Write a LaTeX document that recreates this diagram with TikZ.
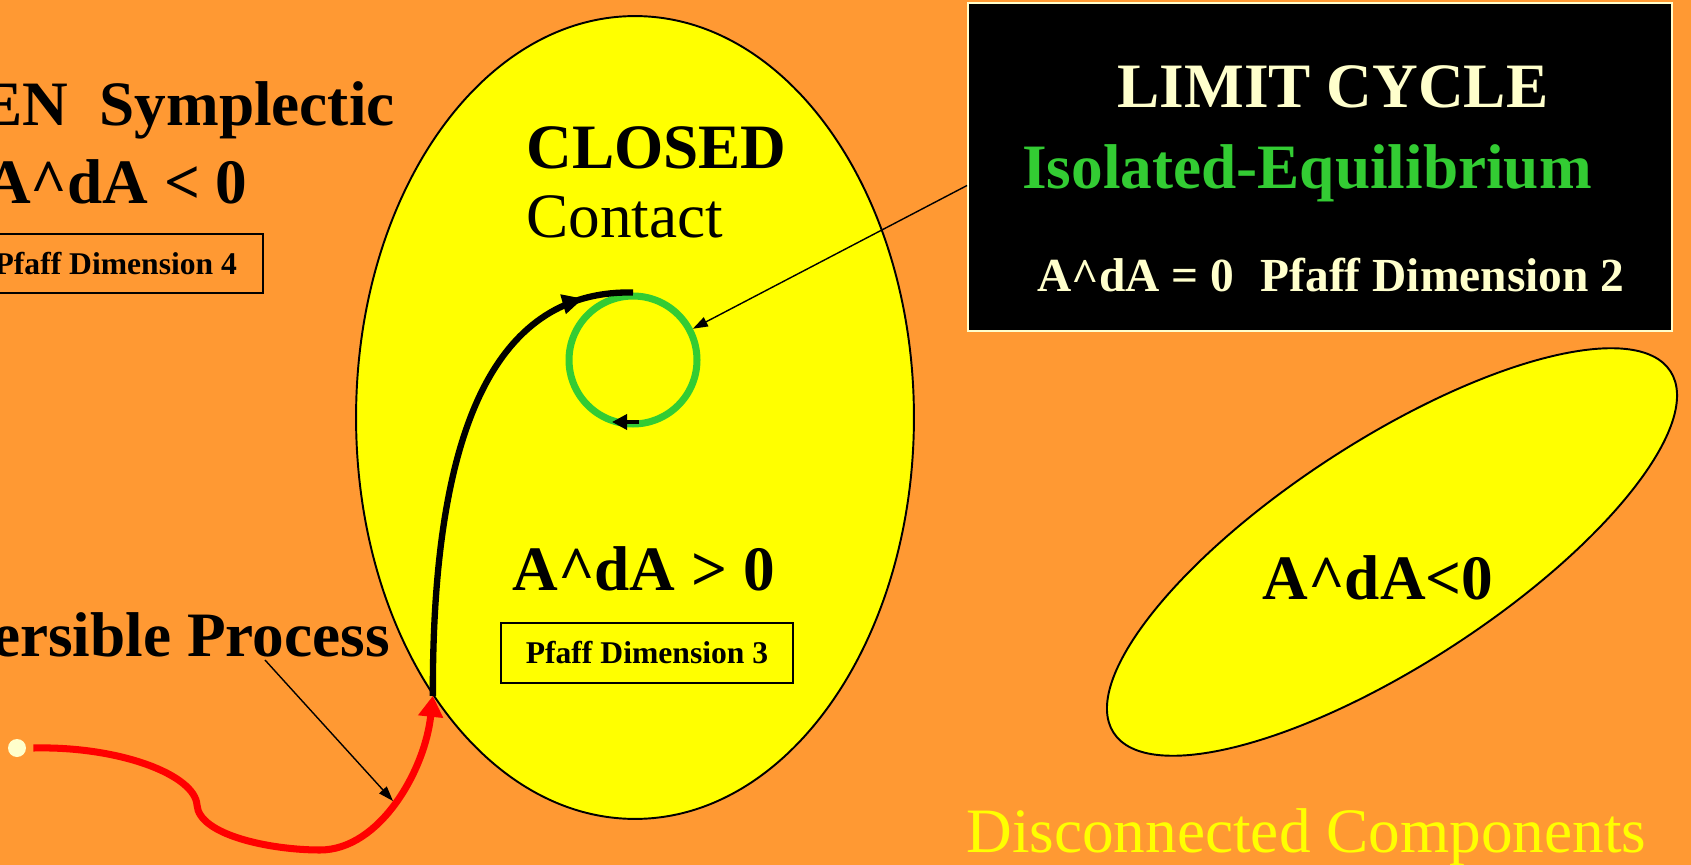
\documentclass[tikz,border=0pt]{standalone}
\usepackage{fontspec}
\setmainfont{Liberation Serif}
\usepackage{tikz}
\usetikzlibrary{arrows.meta,shapes.geometric,calc,decorations.markings}
\definecolor{slideorange}{HTML}{FF9933}
\definecolor{lemon}{HTML}{FFFF00}
\definecolor{cream}{HTML}{FFFFCC}
\definecolor{cyclegreen}{HTML}{33CC33}
\definecolor{flowred}{HTML}{FF0000}
\tikzset{
  region/.style={
    ellipse, draw=black, fill=lemon, line width=1.1pt,
    inner sep=0pt
  },
  bigbold/.style={
    font=\fontsize{36}{40}\selectfont\bfseries, inner sep=0pt
  },
  bigplain/.style={
    font=\fontsize{36}{40}\selectfont, inner sep=0pt
  },
  pfaffbox/.style={
    rectangle, draw=black, line width=1.1pt,
    font=\fontsize{18}{20}\selectfont\bfseries,
    minimum height=1.19cm, align=center
  },
  flowline/.style={
    flowred, line width=4pt, -{Triangle[length=0.42cm, width=0.48cm]}
  },
  orbit/.style={
    black, line width=3.6pt, postaction={decorate},
    decoration={markings, mark=at position 0.9 with
      {\arrow{Stealth[length=0.42cm, width=0.38cm, inset=0pt]}}}
  },
  pointer/.style={
    black, line width=0.8pt, -{Stealth[length=0.3cm, width=0.2cm, inset=0pt]}
  },
  cyclemark/.style={
    black, line width=2pt, -{Stealth[length=0.3cm, width=0.3cm, inset=0pt]}
  },
}
\begin{document}
\begin{tikzpicture}[x=0.02cm, y=-0.02cm]

% background
\fill[slideorange] (0,0) rectangle (1691,865);
\useasboundingbox (0,0) rectangle (1691,865);

% regions
\node[region, minimum width=11.16cm, minimum height=16.06cm] (closed) at (635,417.5) {};
\node[region, rotate=33, minimum width=13.28cm, minimum height=4.48cm] (disc) at (1392,552) {};

% left side labels
\node[bigbold, anchor=base east] (open) at (395,126) {EN\hspace{0.5em}Symplectic};
\node[bigbold, anchor=base east] (opencond) at (248,203) {A\textasciicircum dA < 0};
\node[pfaffbox, anchor=east, inner xsep=0.52cm] (pf4) at (264,263.5) {Pfaff Dimension 4};
\node[bigbold, anchor=base east] (irrev) at (390,656) {ersible Process};

% closed region
\node[bigbold, anchor=base west] (closedlbl) at (526,169) {CLOSED};
\node[bigplain, anchor=base west] (contact) at (526,237) {Contact};
\node[bigbold, anchor=base west] (closedcond) at (512,590) {A\textasciicircum dA > 0};
\node[pfaffbox, minimum width=5.84cm] (pf3) at (647,653) {Pfaff Dimension 3};

% limit cycle
\node[circle, draw=cyclegreen, line width=4pt, minimum size=2.56cm, inner sep=0pt] (cyc) at (633,360) {};
\draw[cyclemark] ($(cyc)+(6,62)$) -- ($(cyc)+(-21,62)$);

% limit cycle box
\node[rectangle, fill=black, draw=cream, line width=1.2pt,
  minimum width=14.08cm, minimum height=6.56cm] (lcbox) at (1320,167) {};
\node[bigbold, text=cream, anchor=base] (lctitle) at (1333,108) {LIMIT CYCLE};
\node[bigbold, text=cyclegreen, anchor=base] (isoeq) at (1307,189) {Isolated-Equilibrium};
\node[font=\fontsize{27}{30}\selectfont\bfseries, text=cream, anchor=base, inner sep=0pt]
  (lccond) at (1331,291) {A\textasciicircum dA = 0\hspace{0.3em} Pfaff Dimension 2};

% disconnected part
\node[bigbold, anchor=base] (disccond) at (1378,599) {A\textasciicircum dA<0};
\node[bigplain, text=lemon, anchor=base west] (disclbl) at (966,852) {Disconnected Components};

% process path
\node[circle, fill=cream, minimum size=0.36cm, inner sep=0pt] (start) at (17,748) {};
\coordinate (entry) at (closed.234);
\draw[flowline] ([xshift=0.14cm]start.east) .. controls (120,746) and (195,775) .. (197,805)
  .. controls (199,835) and (270,850) .. (320,850)
  .. controls (380,850) and (425,770) .. (entry);
\draw[orbit] (entry) .. controls (432,400) and (510,290) .. (cyc.north);

% pointers
\coordinate (procpt) at (265,660);
\coordinate (hit) at (393,801);
\draw[pointer] (procpt) -- (hit);
\draw[pointer] (lcbox.183) -- (cyc);

\end{tikzpicture}
\end{document}
